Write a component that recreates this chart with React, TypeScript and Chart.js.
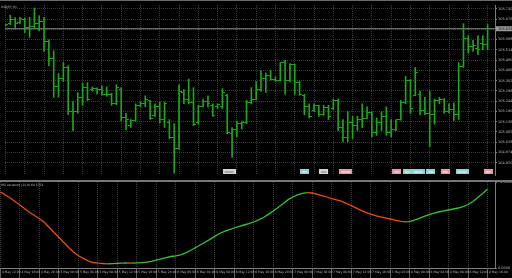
import React, { useEffect, useRef } from 'react';
import { Chart, registerables } from 'chart.js';

Chart.register(...registerables);

const symbolLabel = 'USDJPY,H1';
const indicatorName = 'RSI variation (14,8)';

const barOpen = [
  105.645, 105.655, 105.675, 105.660, 105.675, 105.630, 105.635, 105.655, 105.664, 105.559,
  105.469, 105.319, 105.365, 105.420, 105.189, 105.189, 105.264, 105.315, 105.305, 105.310,
  105.305, 105.280, 105.280, 105.230, 105.305, 105.159, 105.115, 105.140, 105.220, 105.230,
  105.245, 105.170, 105.215, 105.145, 105.130, 105.055, 104.995, 105.290, 105.255, 105.235,
  105.130, 105.215, 105.240, 105.222, 105.215, 105.214, 105.272, 105.072, 105.097, 105.125,
  105.130, 105.239, 105.255, 105.305, 105.365, 105.380, 105.360, 105.355, 105.445, 105.355,
  105.435, 105.340, 105.275, 105.214, 105.195, 105.220, 105.175, 105.210, 105.205, 105.245,
  105.105, 105.055, 105.130, 105.115, 105.145, 105.155, 105.185, 105.080, 105.130, 105.165,
  105.080, 105.095, 105.147, 105.239, 105.355, 105.275, 105.280, 105.197, 105.180, 105.172,
  105.247, 105.255, 105.189, 105.200, 105.172, 105.425, 105.575, 105.530, 105.522, 105.547,
  105.542,
];
const barHigh = [
  105.650, 105.697, 105.684, 105.685, 105.680, 105.685, 105.734, 105.694, 105.685, 105.567,
  105.509, 105.389, 105.447, 105.430, 105.242, 105.289, 105.339, 105.342, 105.319, 105.314,
  105.325, 105.319, 105.285, 105.330, 105.315, 105.180, 105.147, 105.230, 105.239, 105.272,
  105.247, 105.230, 105.239, 105.239, 105.147, 105.125, 105.330, 105.305, 105.360, 105.315,
  105.222, 105.255, 105.272, 105.230, 105.230, 105.310, 105.280, 105.105, 105.139, 105.139,
  105.247, 105.315, 105.347, 105.405, 105.392, 105.405, 105.372, 105.447, 105.459, 105.442,
  105.439, 105.347, 105.280, 105.230, 105.230, 105.222, 105.222, 105.222, 105.255, 105.255,
  105.147, 105.189, 105.164, 105.164, 105.230, 105.214, 105.189, 105.155, 105.189, 105.214,
  105.147, 105.147, 105.247, 105.375, 105.359, 105.422, 105.297, 105.264, 105.297, 105.255,
  105.264, 105.258, 105.230, 105.235, 105.447, 105.652, 105.589, 105.564, 105.589, 105.589,
  105.647,
];
const barLow = [
  105.640, 105.647, 105.630, 105.652, 105.605, 105.580, 105.630, 105.614, 105.505, 105.430,
  105.264, 105.265, 105.347, 105.172, 105.089, 105.180, 105.222, 105.247, 105.297, 105.280,
  105.275, 105.269, 105.222, 105.225, 105.139, 105.092, 105.105, 105.139, 105.214, 105.214,
  105.147, 105.164, 105.130, 105.105, 105.047, 104.865, 104.990, 105.230, 105.230, 105.115,
  105.122, 105.214, 105.214, 105.164, 105.205, 105.205, 105.072, 104.947, 105.055, 105.097,
  105.125, 105.230, 105.250, 105.295, 105.290, 105.355, 105.347, 105.350, 105.280, 105.347,
  105.280, 105.275, 105.172, 105.155, 105.189, 105.164, 105.170, 105.147, 105.197, 105.089,
  105.030, 105.030, 105.047, 105.089, 105.105, 105.150, 105.055, 105.064, 105.089, 105.064,
  105.055, 105.089, 105.143, 105.230, 105.180, 105.272, 105.172, 105.172, 105.005, 105.122,
  105.230, 105.180, 105.180, 105.142, 105.147, 105.422, 105.497, 105.505, 105.489, 105.514,
  105.514,
];
const barClose = [
  105.645, 105.675, 105.655, 105.680, 105.630, 105.635, 105.655, 105.664, 105.559, 105.469,
  105.319, 105.365, 105.422, 105.189, 105.189, 105.264, 105.315, 105.255, 105.310, 105.305,
  105.280, 105.280, 105.230, 105.315, 105.159, 105.145, 105.140, 105.220, 105.230, 105.255,
  105.155, 105.215, 105.145, 105.230, 105.055, 104.995, 105.292, 105.255, 105.235, 105.122,
  105.214, 105.240, 105.230, 105.170, 105.225, 105.290, 105.080, 105.097, 105.125, 105.130,
  105.239, 105.255, 105.305, 105.365, 105.380, 105.360, 105.355, 105.445, 105.355, 105.435,
  105.340, 105.280, 105.215, 105.164, 105.220, 105.175, 105.210, 105.165, 105.245, 105.105,
  105.055, 105.130, 105.114, 105.145, 105.155, 105.185, 105.080, 105.130, 105.165, 105.080,
  105.095, 105.145, 105.239, 105.355, 105.205, 105.395, 105.197, 105.180, 105.172, 105.247,
  105.255, 105.189, 105.200, 105.175, 105.425, 105.575, 105.530, 105.539, 105.515, 105.542,
  105.625,
];

const rsiValues = [
  62.40, 59.86, 57.40, 54.53, 51.66, 48.54, 45.51, 43.05, 40.43, 37.47,
  33.21, 29.11, 25.01, 20.91, 16.81, 13.12, 10.00, 7.95, 5.82, 4.51,
  3.94, 3.69, 3.44, 3.61, 3.77, 3.94, 4.10, 3.94, 4.18, 4.35,
  4.76, 5.49, 6.48, 7.54, 8.53, 9.43, 10.00, 10.82, 12.46, 14.35,
  16.56, 18.86, 21.16, 23.45, 25.91, 28.29, 30.09, 31.49, 32.80, 34.19,
  35.26, 36.33, 37.72, 39.44, 41.41, 43.95, 46.74, 49.69, 52.73, 55.84,
  58.22, 60.02, 61.17, 61.75, 61.50, 60.52, 59.37, 58.22, 56.91, 55.84,
  54.78, 53.05, 51.25, 49.36, 47.31, 45.59, 44.12, 42.97, 41.98, 41.08,
  40.18, 39.28, 38.38, 37.80, 38.05, 39.20, 40.75, 42.39, 43.79, 44.94,
  45.92, 46.82, 47.56, 48.38, 49.20, 50.35, 52.07, 54.53, 57.81, 61.01,
  64.5754,
];

const priceTicks = [
  105.730, 105.676, 105.622, 105.568, 105.514, 105.460, 105.406, 105.352,
  105.298, 105.244, 105.190, 105.136, 105.082, 105.028, 104.974, 104.920,
];
const rsiTicks = [70.52, 0];

const timeTickIndex = [
  0, 4, 8, 12, 16, 20, 24, 28, 32, 36, 40, 44, 48, 52, 56, 60, 64, 68, 72, 76, 80, 84, 88, 92, 96, 100,
];
const timeLabels = [
  '4 May 12:00', '4 May 16:00', '4 May 20:00', '5 May 00:00', '5 May 04:00', '5 May 08:00',
  '5 May 12:00', '5 May 16:00', '5 May 20:00', '6 May 00:00', '6 May 04:00', '6 May 08:00',
  '6 May 12:00', '6 May 16:00', '6 May 20:00', '7 May 00:00', '7 May 04:00', '7 May 08:00',
  '7 May 12:00', '7 May 16:00', '7 May 20:00', '8 May 00:00', '8 May 04:00', '8 May 08:00',
  '8 May 12:00', '8 May 16:00',
];

// calendar events (bar position, kind)
const eventIndex = [46.4, 62.1, 66.0, 70.6, 81.2, 83.3, 85.6, 88.2, 91.2, 94.7, 100.1];
const eventKind = ['whiteWide', 'cyan', 'white', 'pinkWide', 'pink', 'cyan', 'cyanWide', 'cyan', 'pink', 'cyanWide', 'pink'];
const EVENT_ROW = 1.8;

const X_MIN = -0.1;
const X_MAX = 101.54;
const P_MIN = 104.855;
const P_MAX = 105.75;
const R_MIN = 0;
const R_MAX = 70.52;

const BAR_COLOR = '#1aa81a';
const GRID = '#3a3a3a';
const AXIS = '#7c7c7c';
const TEXT = '#b8b8b8';
const UP = '#36c236';
const DOWN = '#ee4a0c';
const FONT = 'DejaVu Sans';

const eventStyles: Record<string, { w: number; fill: string; mark: string }> = {
  white: { w: 9, fill: '#d4d4d4', mark: '#7a7a7a' },
  whiteWide: { w: 13, fill: '#d4d4d4', mark: '#7a7a7a' },
  cyan: { w: 9, fill: '#8fd2d6', mark: '#e8ffff' },
  cyanWide: { w: 13, fill: '#8fd2d6', mark: '#e8ffff' },
  pink: { w: 9, fill: '#e29aa6', mark: '#fff0f2' },
  pinkWide: { w: 13, fill: '#e29aa6', mark: '#fff0f2' },
};

function tickImage(side: 'left' | 'right', color: string) {
  const c = document.createElement('canvas');
  c.width = 5;
  c.height = 1;
  const g = c.getContext('2d')!;
  g.fillStyle = color;
  if (side === 'left') g.fillRect(0, 0, 2, 1);
  else g.fillRect(3, 0, 2, 1);
  return c;
}

function eventImage(kind: string) {
  const s = eventStyles[kind];
  const c = document.createElement('canvas');
  c.width = s.w;
  c.height = 5;
  const g = c.getContext('2d')!;
  g.fillStyle = s.fill;
  g.fillRect(0, 0, s.w, 5);
  g.fillStyle = s.mark;
  g.fillRect(2, 2, s.w - 4, 1);
  return c;
}

function cornerText(id: string, text: string, dy: number) {
  return {
    id,
    afterDraw(chart: any) {
      const ctx = chart.ctx;
      ctx.save();
      ctx.font = `3px ${FONT}`;
      ctx.fillStyle = TEXT;
      ctx.textBaseline = 'middle';
      ctx.fillText(text, 1, chart.chartArea.top + dy);
      ctx.restore();
    },
  };
}

const priceLabelPlugin = {
  id: 'priceLabel',
  afterDraw(chart: any) {
    const y = chart.scales.y;
    const ctx = chart.ctx;
    const last = barClose[barClose.length - 1];
    const py = y.getPixelForValue(last);
    ctx.save();
    ctx.fillStyle = '#9a9a9a';
    ctx.fillRect(y.left + 1, py - 2.5, y.width - 1, 5);
    ctx.fillStyle = '#101010';
    ctx.font = `3.5px ${FONT}`;
    ctx.textBaseline = 'middle';
    ctx.fillText(last.toFixed(3), y.left + 3, py);
    ctx.restore();
  },
};

const fitY = (s: any) => {
  s.width = 17;
  s.paddingTop = 0;
  s.paddingBottom = 0;
};

export default function App() {
  const mainRef = useRef<HTMLCanvasElement>(null);
  const subRef = useRef<HTMLCanvasElement>(null);

  useEffect(() => {
    const openImg = tickImage('left', BAR_COLOR);
    const closeImg = tickImage('right', BAR_COLOR);
    const evImgs = eventKind.map((k) => eventImage(k));
    const last = barClose[barClose.length - 1];

    const xTicks = (s: any) => {
      s.ticks = timeTickIndex.map((v) => ({ value: v }));
    };

    const main = new Chart(mainRef.current!, {
      type: 'bar',
      data: {
        datasets: [
          {
            type: 'bar',
            data: barHigh.map((h, i) => ({ x: i, y: [barLow[i], h] })) as any,
            backgroundColor: BAR_COLOR,
            borderWidth: 0,
            barThickness: 1,
            grouped: false,
          } as any,
          {
            type: 'line',
            data: barOpen.map((v, i) => ({ x: i, y: v })),
            showLine: false,
            pointStyle: openImg as any,
            pointRadius: 3,
          },
          {
            type: 'line',
            data: barClose.map((v, i) => ({ x: i, y: v })),
            showLine: false,
            pointStyle: closeImg as any,
            pointRadius: 3,
          },
          {
            type: 'line',
            data: [
              { x: X_MIN, y: last },
              { x: X_MAX, y: last },
            ],
            borderColor: '#8a8a8a',
            borderWidth: 1,
            pointRadius: 0,
          },
          {
            type: 'line',
            yAxisID: 'ev',
            data: eventIndex.map((v) => ({ x: v, y: EVENT_ROW })),
            showLine: false,
            pointStyle: evImgs as any,
            pointRadius: 3,
            clip: false as any,
          },
        ] as any,
      },
      options: {
        responsive: false,
        animation: false,
        events: [],
        layout: { padding: { top: 1, left: 0, right: 0, bottom: 0 } },
        plugins: { legend: { display: false }, tooltip: { enabled: false } },
        scales: {
          x: {
            type: 'linear',
            min: X_MIN,
            max: X_MAX,
            offset: false,
            afterBuildTicks: xTicks,
            afterFit: (s: any) => {
              s.height = 0;
              s.paddingLeft = 0;
              s.paddingRight = 0;
            },
            ticks: { display: false },
            grid: { color: GRID, drawTicks: false, offset: false },
            border: { display: false, dash: [1, 1] },
          },
          y: {
            position: 'right',
            min: P_MIN,
            max: P_MAX,
            afterBuildTicks: (s: any) => {
              s.ticks = priceTicks.map((v) => ({ value: v }));
            },
            afterFit: fitY,
            ticks: {
              autoSkip: false,
              padding: 1,
              color: TEXT,
              font: { size: 3.5, family: FONT },
              callback: (v: any) => Number(v).toFixed(3),
            },
            grid: { color: GRID, tickLength: 2, tickColor: AXIS },
            border: { display: true, color: AXIS, dash: [1, 1] },
          },
          ev: {
            type: 'linear',
            display: false,
            min: 0,
            max: 100,
          },
        } as any,
      },
      plugins: [cornerText('mainTitle', symbolLabel, 2.5), priceLabelPlugin],
    });

    const sub = new Chart(subRef.current!, {
      type: 'line',
      data: {
        datasets: [
          {
            data: rsiValues.map((v, i) => ({ x: i, y: v })),
            borderWidth: 1.3,
            pointRadius: 0,
            borderColor: UP,
            segment: {
              borderColor: (ctx: any) => (ctx.p1.parsed.y < ctx.p0.parsed.y ? DOWN : UP),
            },
          },
        ],
      },
      options: {
        responsive: false,
        animation: false,
        events: [],
        layout: { padding: 0 },
        plugins: { legend: { display: false }, tooltip: { enabled: false } },
        scales: {
          x: {
            type: 'linear',
            min: X_MIN,
            max: X_MAX,
            offset: false,
            afterBuildTicks: xTicks,
            afterFit: (s: any) => {
              s.height = 10;
              s.paddingLeft = 0;
              s.paddingRight = 0;
            },
            ticks: {
              autoSkip: false,
              maxRotation: 0,
              minRotation: 0,
              align: 'start',
              padding: -8,
              labelOffset: 1.5,
              color: TEXT,
              font: { size: 3, family: FONT },
              callback: (_v: any, i: number) => timeLabels[i],
            },
            grid: { color: GRID, tickLength: 10, tickColor: '#5e5e5e', offset: false },
            border: { display: true, color: AXIS, dash: [1, 1] },
          },
          y: {
            position: 'right',
            min: R_MIN,
            max: R_MAX,
            afterBuildTicks: (s: any) => {
              s.ticks = rsiTicks.map((v) => ({ value: v }));
            },
            afterFit: fitY,
            ticks: {
              autoSkip: false,
              padding: 1,
              color: TEXT,
              font: { size: 3.5, family: FONT },
              callback: (v: any) => Number(v).toFixed(4),
            },
            grid: { drawOnChartArea: false, tickLength: 2, tickColor: AXIS },
            border: { display: true, color: AXIS },
          },
        } as any,
      },
      plugins: [
        cornerText('subTitle', `${indicatorName} ${rsiValues[rsiValues.length - 1].toFixed(4)}`, 3),
      ],
    });

    return () => {
      main.destroy();
      sub.destroy();
    };
  }, []);

  return (
    <div
      style={{
        position: 'fixed',
        left: 0,
        top: 0,
        width: 512,
        height: 278,
        background: '#000',
        overflow: 'hidden',
      }}
    >
      <canvas ref={mainRef} width={512} height={180} style={{ position: 'absolute', left: 0, top: 0 }} />
      <div style={{ position: 'absolute', left: 0, top: 0, width: 512, height: 1, background: '#6a6a6a' }} />
      <div style={{ position: 'absolute', left: 0, top: 180, width: 512, height: 2, background: '#757575' }} />
      <canvas ref={subRef} width={512} height={96} style={{ position: 'absolute', left: 0, top: 182 }} />
    </div>
  );
}
